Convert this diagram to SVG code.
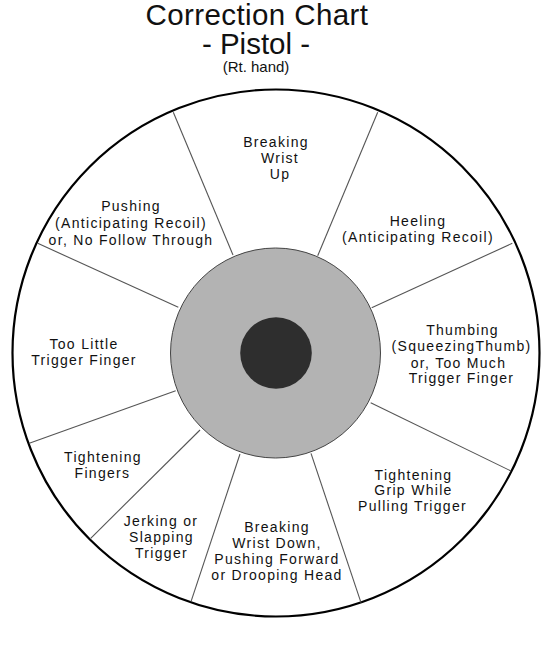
<svg xmlns="http://www.w3.org/2000/svg" width="560" height="652" viewBox="0 0 560 652">
<style>
text{font-family:"Liberation Sans",Arial,sans-serif;fill:#111;text-anchor:middle}
.title{font-size:29.5px}
.sub{font-size:15px}
.lbl{font-size:14px;letter-spacing:1.3px}
.spoke{stroke:#555;stroke-width:1.1;fill:none}
</style>
<rect width="560" height="652" fill="#fff"/>
<g id="title">
<text class="title" x="257" y="25" letter-spacing="0.4">Correction Chart</text>
<text class="title" x="256" y="54">- Pistol -</text>
<text class="sub" x="256" y="72">(Rt. hand)</text>
</g>
<g id="outer-ring">
<circle cx="276" cy="353" r="263.5" fill="#fff" stroke="#000" stroke-width="2.2"/>
</g>
<g id="connectors">
<line class="spoke" x1="233" y1="255" x2="173.3" y2="112.3"/>
<line class="spoke" x1="317.7" y1="255.7" x2="377.7" y2="112.3"/>
<line class="spoke" x1="371.7" y1="307.7" x2="512.3" y2="243.3"/>
<line class="spoke" x1="178.3" y1="307.3" x2="37.7" y2="243.3"/>
<line class="spoke" x1="175.7" y1="390.7" x2="29.3" y2="443.3"/>
<line class="spoke" x1="370.7" y1="402.7" x2="511" y2="471"/>
<line class="spoke" x1="200" y1="430" x2="90.7" y2="538.3"/>
<line class="spoke" x1="240" y1="454" x2="191" y2="601.7"/>
<line class="spoke" x1="311" y1="453.3" x2="361" y2="602.7"/>
</g>
<g id="inner-ring">
<circle cx="275.5" cy="353" r="105" fill="#b3b3b3" stroke="#444" stroke-width="1"/>
</g>
<g id="bullseye">
<circle cx="276" cy="353" r="35.8" fill="#2e2e2e"/>
</g>
<g id="breaking-wrist-up">
<text class="lbl" x="276" y="147">Breaking</text>
<text class="lbl" x="280" y="163">Wrist</text>
<text class="lbl" x="280" y="179">Up</text>
</g>
<g id="heeling">
<text class="lbl" x="418" y="226">Heeling</text>
<text class="lbl" x="418" y="241.5">(Anticipating Recoil)</text>
</g>
<g id="pushing">
<text class="lbl" x="131" y="211">Pushing</text>
<text class="lbl" x="131" y="228">(Anticipating Recoil)</text>
<text class="lbl" x="131" y="244.5">or, No Follow Through</text>
</g>
<g id="too-little">
<text class="lbl" x="84" y="349">Too Little</text>
<text class="lbl" x="84" y="364.5">Trigger Finger</text>
</g>
<g id="thumbing">
<text class="lbl" x="462.5" y="334.5">Thumbing</text>
<text class="lbl" x="461.5" y="351">(SqueezingThumb)</text>
<text class="lbl" x="458.5" y="367.5">or, Too Much</text>
<text class="lbl" x="461.5" y="383">Trigger Finger</text>
</g>
<g id="tightening-fingers">
<text class="lbl" x="103" y="461.5">Tightening</text>
<text class="lbl" x="102.5" y="477.5">Fingers</text>
</g>
<g id="jerking">
<text class="lbl" x="161" y="526">Jerking or</text>
<text class="lbl" x="161.5" y="541.5">Slapping</text>
<text class="lbl" x="161.5" y="557.5">Trigger</text>
</g>
<g id="breaking-wrist-down">
<text class="lbl" x="277" y="531.5">Breaking</text>
<text class="lbl" x="277" y="547.5">Wrist Down,</text>
<text class="lbl" x="277" y="563.5">Pushing Forward</text>
<text class="lbl" x="277" y="579.5">or Drooping Head</text>
</g>
<g id="tightening-grip">
<text class="lbl" x="413.5" y="479.5">Tightening</text>
<text class="lbl" x="413.5" y="495">Grip While</text>
<text class="lbl" x="412.5" y="511">Pulling Trigger</text>
</g>
</svg>
